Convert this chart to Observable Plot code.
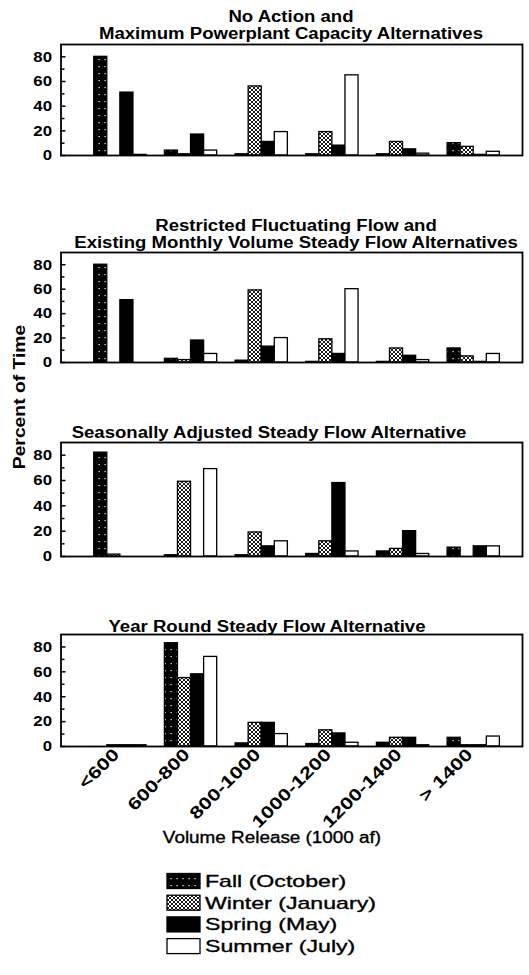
<!DOCTYPE html>
<html>
<head>
<meta charset="utf-8">
<script src="https://cdn.jsdelivr.net/npm/d3@7"></script>
<script src="https://cdn.jsdelivr.net/npm/@observablehq/plot@0.6"></script>
<style>
  html, body { margin: 0; padding: 0; background: #fff; }
  #root { position: relative; width: 529px; height: 975px; overflow: hidden; background: #fff; }
  #root > svg { position: absolute; left: 0; }
</style>
</head>
<body>
<div id="root"></div>
<script>
// ---------------- data ----------------
const categories = ["<600", "600-800", "800-1000", "1000-1200", "1200-1400", "> 1400"];
const seasons = ["Fall (October)", "Winter (January)", "Spring (May)", "Summer (July)"];
const yTicks = [0, 20, 40, 60, 80];
const yMinorTicks = [10, 30, 50, 70];

// No Action and Maximum Powerplant Capacity Alternatives
const noActionFall   = [80, 4, 1, 1, 1, 10];
const noActionWinter = [0, 1, 56, 19, 11, 7];
const noActionSpring = [51, 17, 11, 8, 5, 0.5];
const noActionSummer = [0.5, 4, 19, 65, 1.5, 3];

// Restricted Fluctuating Flow and Existing Monthly Volume Steady Flow Alternatives
const restrictedFall   = [80, 3, 1.5, 0.5, 0.5, 11.5];
const restrictedWinter = [0, 2, 59, 19, 11.5, 5];
const restrictedSpring = [51, 18, 13, 7, 5.5, 0.5];
const restrictedSummer = [0, 7, 20, 60, 2, 7];

// Seasonally Adjusted Steady Flow Alternative
const seasonalFall   = [82, 1, 1, 2, 4, 7];
const seasonalWinter = [1.5, 59, 19, 12, 6, 0];
const seasonalSpring = [0, 0, 8, 58, 20, 8];
const seasonalSummer = [0, 69, 12, 4, 2, 8];

// Year Round Steady Flow Alternative
const yearRoundFall   = [0, 83, 2.5, 2, 3, 7];
const yearRoundWinter = [1, 55, 19, 13, 7, 1];
const yearRoundSpring = [1, 58, 19, 10.5, 7, 1];
const yearRoundSummer = [1, 72, 10, 3, 1, 8];

const panelTitles = [
  ["No Action and", "Maximum Powerplant Capacity Alternatives"],
  ["Restricted Fluctuating Flow and", "Existing Monthly Volume Steady Flow Alternatives"],
  ["Seasonally Adjusted Steady Flow Alternative"],
  ["Year Round Steady Flow Alternative"]
];
const yLabel = "Percent of Time";
const xLabel = "Volume Release (1000 af)";

// ---------------- styles / layout ----------------
const FONT = "'Liberation Sans', Arial, Helvetica, sans-serif";
const seasonFills = ["url(#fallPattern)", "url(#winterPattern)", "#000", "#fff"];
const panelSeries = [
  [noActionFall, noActionWinter, noActionSpring, noActionSummer],
  [restrictedFall, restrictedWinter, restrictedSpring, restrictedSummer],
  [seasonalFall, seasonalWinter, seasonalSpring, seasonalSummer],
  [yearRoundFall, yearRoundWinter, yearRoundSpring, yearRoundSummer]
];
const panelLayout = [
  {top: 44,  zero: 155, titleX: 291, titleY: [22, 39]},
  {top: 252, zero: 362, titleX: 296, titleY: [231, 248]},
  {top: 442, zero: 556, titleX: 269, titleY: [438]},
  {top: 634, zero: 746, titleX: 267, titleY: [632]}
];
const groupWidth = 0.74;
const NS = "http://www.w3.org/2000/svg";
const root = document.getElementById("root");

// overlay svg (pattern defs, titles, labels, legend)
const overlay = document.createElementNS(NS, "svg");
overlay.setAttribute("width", 529);
overlay.setAttribute("height", 975);
overlay.style.top = "0px";
overlay.style.pointerEvents = "none";
overlay.style.zIndex = 2;
overlay.innerHTML = `
<defs>
  <pattern id="fallPattern" width="6" height="7" patternUnits="userSpaceOnUse">
    <rect width="6" height="7" fill="#000"/>
    <rect x="2.5" y="3" width="1.2" height="1.2" fill="#fff"/>
  </pattern>
  <pattern id="winterPattern" width="4" height="4" patternUnits="userSpaceOnUse">
    <rect width="4" height="4" fill="#fff"/>
    <path d="M0,0L4,4M4,0L0,4" stroke="#000" stroke-width="0.9"/>
  </pattern>
</defs>`;
root.appendChild(overlay);

function stretchText(t, factor) {
  const len = t.getComputedTextLength();
  if (len > 0) {
    t.setAttribute("textLength", (len * factor).toFixed(1));
    t.setAttribute("lengthAdjust", "spacingAndGlyphs");
  }
}

function addText(str, o) {
  const t = document.createElementNS(NS, "text");
  t.textContent = str;
  t.setAttribute("font-family", FONT);
  t.setAttribute("font-size", o.size);
  t.setAttribute("font-weight", o.weight || "bold");
  t.setAttribute("text-anchor", o.anchor || "middle");
  t.setAttribute("fill", "#000");
  if (o.thick) { t.setAttribute("stroke", "#000"); t.setAttribute("stroke-width", o.thick); }
  if (o.rotate) t.setAttribute("transform", `translate(${o.x},${o.y}) rotate(${o.rotate})`);
  else { t.setAttribute("x", o.x); t.setAttribute("y", o.y); }
  overlay.appendChild(t);
  stretchText(t, o.stretch || 1);
  return t;
}

function panelRows(series) {
  return categories.flatMap((c, ci) =>
    seasons.map((s, si) => ({category: c, ci, season: s, si, value: series[si][ci]})));
}

function drawPanel(series, L, showX) {
  const mt = 2, mb = showX ? 95 : 3;
  const h = L.zero - L.top;
  const bw = groupWidth / seasons.length;
  const chart = Plot.plot({
    width: 529,
    height: h + mt + mb,
    marginLeft: 60.5, marginRight: 7, marginTop: mt, marginBottom: mb,
    style: {fontFamily: FONT, fontWeight: "bold", fontSize: "15px", color: "#000", background: "transparent", overflow: "visible"},
    x: Object.assign({domain: [-0.84, 5.69], label: null}, showX ? {} : {axis: null}),
    y: {domain: [0, 90], label: null},
    color: {domain: seasons, range: seasonFills},
    marks: [
      Plot.rectY(panelRows(series), {
        x1: d => d.ci - groupWidth / 2 + d.si * bw,
        x2: d => d.ci - groupWidth / 2 + (d.si + 1) * bw,
        y1: 0, y2: "value",
        fill: "season", stroke: "#000", strokeWidth: 1.3
      }),
      // inward ticks (major and minor)
      Plot.axisY(yTicks, {tickSize: 5, dx: 5, tickFormat: () => "", label: null, strokeWidth: 1.5}),
      Plot.axisY(yMinorTicks, {tickSize: 4, dx: 4, tickFormat: () => "", label: null, strokeWidth: 1.5}),
      // tick labels
      Plot.axisY(yTicks, {tickSize: 0, tickPadding: 9, fontSize: 15, label: null}),
      showX ? Plot.axisX(d3.range(categories.length), {
        tickFormat: i => categories[i], tickRotate: -45, tickSize: 0, tickPadding: 5, dx: -4,
        fontSize: 17, label: null
      }) : null,
      Plot.frame({stroke: "#000", strokeWidth: 1.8})
    ]
  });
  chart.style.top = (L.top - mt) + "px";
  chart.style.zIndex = 1;
  root.appendChild(chart);
  chart.querySelectorAll('g[aria-label="y-axis tick label"] text').forEach(t => stretchText(t, 1.12));
  chart.querySelectorAll('g[aria-label="x-axis tick label"] text').forEach(t => stretchText(t, 1.28));
}

panelSeries.forEach((series, i) => drawPanel(series, panelLayout[i], i === panelSeries.length - 1));

// titles
panelTitles.forEach((lines, i) => {
  const L = panelLayout[i];
  lines.forEach((line, j) => addText(line, {x: L.titleX, y: L.titleY[j], size: 16, stretch: 1.16}));
});

// axis titles
addText(yLabel, {x: 25, y: 397, size: 16.5, rotate: -90, stretch: 1.17});
addText(xLabel, {x: 272, y: 843, size: 16, weight: "normal", thick: 0.35, stretch: 1.18});

// legend
seasons.forEach((s, i) => {
  const cy = 881 + i * 21.7;
  const r = document.createElementNS(NS, "rect");
  r.setAttribute("x", 167); r.setAttribute("y", cy - 7.5);
  r.setAttribute("width", 33); r.setAttribute("height", 15);
  r.setAttribute("fill", seasonFills[i]);
  r.setAttribute("stroke", "#000"); r.setAttribute("stroke-width", 1.3);
  overlay.appendChild(r);
  addText(s, {x: 205, y: cy + 6, size: 17, weight: "normal", thick: 0.35, anchor: "start", stretch: 1.36});
});
</script>
</body>
</html>
